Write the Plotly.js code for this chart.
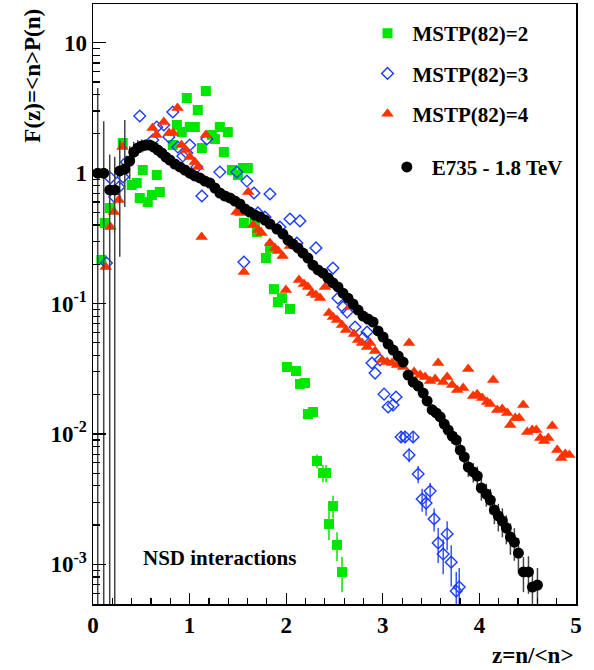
<!DOCTYPE html>
<html>
<head>
<meta charset="utf-8">
<script src="https://cdn.plot.ly/plotly-3.0.1.min.js"></script>
<style>
  html, body { margin: 0; padding: 0; background: #fff; }
  #chart { width: 594px; height: 670px; }
</style>
</head>
<body>
<div id="chart"></div>
<script>
// E735 data, z = n/<n> and F(z)
const zData = [0.049,0.111,0.173,0.225,0.277,0.329,0.380,0.422,0.463,0.505,
  0.546,0.588,0.629,0.671,0.712,0.754,0.795,0.847,0.899,0.951,
  1.002,1.054,1.106,1.158,1.210,1.262,1.313,1.365,1.417,1.469,
  1.521,1.573,1.624,1.676,1.728,1.780,1.832,1.904,1.966,2.018,
  2.070,2.122,2.173,2.225,2.277,2.329,2.381,2.433,2.484,2.536,
  2.588,2.640,2.692,2.744,2.796,2.847,2.899,2.951,3.003,3.055,
  3.107,3.159,3.210,3.262,3.314,3.366,3.418,3.459,3.511,3.553,
  3.594,3.636,3.677,3.719,3.760,3.802,3.843,3.885,3.937,3.978,
  4.020,4.072,4.113,4.155,4.196,4.238,4.279,4.321,4.362,4.404,
  4.456,4.508,4.549,4.601];
const fData = [1.00,1.00,0.743,0.743,1.04,1.076,1.239,1.452,1.558,1.615,
  1.643,1.643,1.586,1.504,1.427,1.329,1.261,1.175,1.115,1.057,
  1.000,0.951,0.918,0.870,0.840,0.769,0.704,0.668,0.645,0.611,
  0.580,0.531,0.503,0.477,0.461,0.437,0.407,0.373,0.341,0.307,
  0.286,0.267,0.244,0.223,0.197,0.181,0.171,0.157,0.144,0.134,
  0.120,0.110,0.0992,0.0892,0.0802,0.0761,0.0722,0.0616,0.0554,0.0489,
  0.0440,0.0396,0.0356,0.0283,0.0250,0.0233,0.0206,0.0179,0.0153,0.0145,
  0.0135,0.0119,0.0107,0.00964,0.00899,0.00753,0.00666,0.00558,0.00511,0.00476,
  0.00385,0.00346,0.00311,0.00261,0.00235,0.00215,0.00190,0.00162,0.00148,0.00122,
  0.000874,0.000874,0.000670,0.000694];
// relative errors (upper / lower)
const relErrUp = [3.5,1.5,0.87,0.8,0.72,1.38,0.3,0.2,0.15,0.12,0.1,
  0.08,0.06,0.05,0.04,0.04,0.03,0.03,0.03,0.03,
  0.03,0.03,0.03,0.03,0.03,0.03,0.03,0.03,0.03,0.03,0.03,0.03,0.03,0.03,0.03,0.03,0.03,0.03,0.03,
  0.03,0.03,0.03,0.03,0.03,0.03,0.03,0.03,0.03,0.03,0.03,0.03,0.03,0.03,0.03,0.03,0.03,0.03,0.03,
  0.05,0.05,0.06,0.06,0.07,0.07,0.08,0.08,0.09,0.09,0.1,0.1,
  0.12,0.12,0.13,0.13,0.14,0.15,0.15,0.16,0.17,0.18,0.2,0.2,0.22,0.22,0.24,0.25,0.25,0.27,0.28,0.3,0.3,0.32,0.35,0.35];
const relErrDnStart = [1,1,1,1,0.78,0.49,0.28,0.17,0.13,0.11,0.09];

// MSTP(82)=2
const zM2 = [0.087,0.121,0.173,0.308,0.401,0.453,0.484,0.515,0.567,0.609,
  0.660,0.692,0.826,0.868,0.919,0.971,1.002,1.054,1.085,1.127,
  1.168,1.230,1.262,1.313,1.355,1.396,1.438,1.500,1.552,1.603,
  1.562,1.676,1.697,1.790,1.832,1.873,1.956,1.914,2.039,2.008,
  2.101,2.143,2.194,2.225,2.277,2.319,2.381,2.412,2.485,2.443,
  2.526,2.578];
const fM2 = [0.216,0.415,0.540,1.702,0.811,0.840,0.645,1.057,0.601,0.680,
  0.968,0.717,1.643,2.339,2.067,3.768,2.258,2.258,3.049,1.558,
  4.264,1.961,1.827,2.258,1.452,2.067,1.057,0.968,1.095,1.095,
  0.415,0.415,0.354,0.2235,0.267,0.129,0.110,0.1027,0.0908,0.0326,
  0.0304,0.0242,0.0246,0.01422,0.01473,0.00620,0.00502,0.00502,0.0028,0.00204,
  0.00141,0.000874];
const relErrM2 = [0,0,0,0,0,0,0,0,0,0,0,0,0,0,0,0,0,0,0,0,0,0,0,0,0,0,0,0,0,0,
  0,0,0,0,0,0,0,0,0,0,0,0,0,0,0,0.12,0.15,0.15,0.2,0.25,0.25,0.3];

// MSTP(82)=3
const zM3 = [0.139,0.180,0.225,0.269,0.311,0.346,0.484,0.619,0.660,0.733,
  0.785,0.826,0.878,0.930,0.971,1.002,1.075,1.127,1.179,1.313,
  1.489,1.593,1.666,1.832,1.562,1.707,1.780,1.935,2.039,2.142,
  2.111,2.308,2.484,2.453,2.536,2.588,2.630,2.713,2.837,2.795,
  2.888,2.920,2.971,3.013,3.055,3.106,3.137,3.189,3.231,3.314,
  3.272,3.366,3.490,3.407,3.448,3.531,3.666,3.573,3.625,3.708,
  3.760,3.791];
const fM3 = [0.205,0.918,0.656,0.783,0.934,1.217,2.743,1.793,2.258,2.339,
  1.893,2.943,1.586,1.353,1.427,1.643,1.115,0.668,1.827,1.020,
  1.020,0.870,0.704,0.692,0.208,0.495,0.461,0.386,0.445,0.430,
  0.291,0.267,0.187,0.1515,0.110,0.094,0.0861,0.0661,0.0605,0.0544,
  0.0350,0.0293,0.0369,0.0202,0.0161,0.0167,0.0192,0.00948,0.00948,0.00948,
  0.00690,0.00493,0.00365,0.00317,0.00295,0.00223,0.00171,0.00146,0.00120,0.00104,
  0.000624,0.000670];
const relErrM3 = [0,0,0,0,0,0,0,0,0,0,0,0,0,0,0,0,0,0,0,0,0,0,0,0,0,0,0,0,0,0,
  0,0,0,0,0,0,0,0,0,0,0,0,0,0,0,0,0,
  0.1,0.1,0.1,0.12,0.15,0.15,0.2,0.2,0.2,0.25,0.3,0.3,0.35,0.4,0.4];

// MSTP(82)=4
const zM4 = [0.132,0.180,0.218,0.266,0.305,0.616,0.657,0.733,0.788,0.829,
  0.875,0.916,0.961,1.002,1.054,1.088,1.168,1.124,1.486,1.528,
  1.607,1.562,1.658,1.710,1.745,1.832,1.883,1.918,1.963,2.039,
  1.997,2.132,2.184,2.225,2.267,2.308,2.350,2.402,2.443,2.484,
  2.526,2.578,2.619,2.661,2.702,2.744,2.785,2.837,2.868,2.920,
  2.992,3.044,3.096,3.148,3.210,3.272,3.324,3.386,3.438,3.490,
  3.542,3.573,3.625,3.666,3.718,3.770,3.832,3.884,3.935,3.977,
  4.029,4.080,4.112,4.143,4.184,4.236,4.288,4.319,4.371,4.412,
  4.454,4.495,4.547,4.589,4.630,4.671,4.713,4.754,4.806,4.848,
  4.889,4.931];
const fM4 = [0.1906,0.386,0.503,0.622,1.586,2.219,1.961,2.466,2.031,2.031,
  3.16,1.643,1.504,1.329,1.217,1.115,1.961,0.324,0.503,0.495,
  0.717,0.1745,0.400,0.366,0.348,0.291,0.267,0.253,0.2314,0.276,
  0.127,0.1515,0.1412,0.1339,0.1204,0.1162,0.1103,0.1339,0.0846,0.0788,
  0.0748,0.0684,0.0627,0.0940,0.0584,0.0525,0.0498,0.0464,0.0498,0.0433,
  0.0369,0.0356,0.0350,0.0338,0.0326,0.0498,0.0299,0.0283,0.0273,0.0255,
  0.0264,0.0350,0.0250,0.0273,0.0237,0.0217,0.0225,0.0315,0.01954,0.0202,
  0.01887,0.01758,0.01697,0.0259,0.01527,0.01553,0.01448,0.01171,0.01325,0.01325,
  0.01667,0.01035,0.01072,0.01072,0.00931,0.00883,0.00931,0.01150,0.00753,0.00654,
  0.00702,0.00690];

const yTickVals = [0.001, 0.01, 0.1, 1, 10];
const yTickText = ['10<sup>-3</sup>', '10<sup>-2</sup>', '10<sup>-1</sup>', '1', '10'];

const serif = '"Liberation Serif", "Times New Roman", serif';

const absErr = (vals, rel) => vals.map((v, i) => v * rel[i]);
const relErrDn = relErrDnStart.concat(relErrUp.slice(relErrDnStart.length));

// minor log ticks 2..9 per decade
const yMinor = [];
for (let p = -4; p <= 1; p++) {
  for (let m = 2; m <= 9; m++) yMinor.push(m * Math.pow(10, p));
}

const mstp2 = {
  x: zM2, y: fM2, mode: 'markers', type: 'scatter', name: 'MSTP(82)=2',
  legendgroup: 'a',
  marker: { symbol: 'square', size: 10, color: '#00e600' },
  error_y: { type: 'data', array: absErr(fM2, relErrM2), color: '#00e600', thickness: 1.5, width: 0 }
};
const mstp3 = {
  x: zM3, y: fM3, mode: 'markers', type: 'scatter', name: 'MSTP(82)=3',
  legendgroup: 'b',
  marker: { symbol: 'diamond-open', size: 9, color: '#1a3cff', line: { width: 1.4, color: '#1a3cff' } },
  error_y: { type: 'data', array: absErr(fM3, relErrM3), color: '#1a3cff', thickness: 1.3, width: 0 }
};
const mstp4 = {
  x: zM4, y: fM4, mode: 'markers', type: 'scatter', name: 'MSTP(82)=4',
  legendgroup: 'c',
  marker: { symbol: 'triangle-up', size: 11, color: '#ff3300' }
};
const e735 = {
  x: zData, y: fData, mode: 'markers', type: 'scatter', name: 'E735 - 1.8 TeV',
  legend: 'legend2',
  marker: { symbol: 'circle', size: 11, color: '#000000' },
  error_y: {
    type: 'data', symmetric: false,
    array: absErr(fData, relErrUp), arrayminus: absErr(fData, relErrDn),
    color: '#444444', thickness: 1.5, width: 0
  }
};

const layout = {
  width: 594,
  height: 670,
  margin: { l: 93, r: 18, t: 4, b: 66 },
  paper_bgcolor: '#ffffff',
  plot_bgcolor: '#ffffff',
  font: { family: serif, size: 21, color: '#000000', weight: 'bold' },
  xaxis: {
    range: [0, 5],
    tick0: 0, dtick: 1,
    ticks: 'inside', ticklen: 11, tickwidth: 1.3, tickcolor: '#000',
    minor: { dtick: 0.2, ticks: 'inside', ticklen: 6, tickwidth: 1.2, tickcolor: '#000' },
    showline: true, linewidth: 1.5, linecolor: '#000', mirror: true,
    showgrid: false, zeroline: false,
    tickfont: { family: serif, size: 23, weight: 'bold' }
  },
  yaxis: {
    type: 'log',
    range: [-3.304, 1.297],
    tickmode: 'array', tickvals: yTickVals, ticktext: yTickText,
    ticks: 'inside', ticklen: 13, tickwidth: 1.3, tickcolor: '#000',
    minor: { tickmode: 'array', tickvals: yMinor, ticks: 'inside', ticklen: 7, tickwidth: 1.2, tickcolor: '#000' },
    showline: true, linewidth: 1.5, linecolor: '#000', mirror: true,
    showgrid: false, zeroline: false,
    tickfont: { family: serif, size: 23, weight: 'bold' }
  },
  showlegend: true,
  legend: {
    x: 0.558, y: 0.985, xanchor: 'left', yanchor: 'top',
    bgcolor: 'rgba(0,0,0,0)', borderwidth: 0,
    itemwidth: 40, tracegroupgap: 10, traceorder: 'grouped',
    font: { family: serif, size: 21, weight: 'bold' }
  },
  legend2: {
    x: 0.598, y: 0.762, xanchor: 'left', yanchor: 'top',
    bgcolor: 'rgba(0,0,0,0)', borderwidth: 0,
    itemwidth: 40,
    font: { family: serif, size: 21, weight: 'bold' }
  },
  annotations: [
    {
      text: 'F(z)=&lt;n&gt;P(n)', xref: 'paper', yref: 'paper',
      x: -0.127, y: 0.88, xanchor: 'center', yanchor: 'middle',
      textangle: -90, showarrow: false,
      font: { family: serif, size: 23, weight: 'bold' }
    },
    {
      text: 'z=n/&lt;n&gt;', xref: 'paper', yref: 'paper',
      x: 1.0, y: -0.085, xanchor: 'right', yanchor: 'middle',
      showarrow: false,
      font: { family: serif, size: 23, weight: 'bold' }
    },
    {
      text: 'NSD interactions', xref: 'paper', yref: 'paper',
      x: 0.261, y: 0.0767, xanchor: 'center', yanchor: 'middle',
      showarrow: false,
      font: { family: serif, size: 21, weight: 'bold' }
    }
  ]
};

Plotly.newPlot('chart', [mstp2, mstp3, mstp4, e735], layout, { displayModeBar: false, staticPlot: true });
</script>
</body>
</html>
